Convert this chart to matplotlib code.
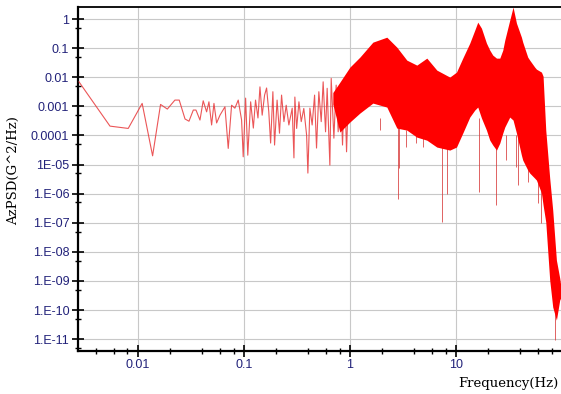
import matplotlib
matplotlib.use('Agg')
import matplotlib.pyplot as plt
from matplotlib.ticker import FixedLocator, FixedFormatter

# Low-frequency part of the spectrum (drawn as a thin line)
line_freq = [0.00279, 0.00547, 0.00813, 0.0110, 0.0138, 0.0164, 0.0190, 0.0224, 0.0246,
             0.0279, 0.0304, 0.0334, 0.0354, 0.0386, 0.0414, 0.0446, 0.0469, 0.0497,
             0.0523, 0.0554, 0.0596, 0.0664, 0.0713, 0.0767, 0.0824, 0.0886, 0.0953,
             0.0987, 0.104, 0.109, 0.116, 0.123, 0.129, 0.136, 0.142, 0.149, 0.157,
             0.164, 0.172, 0.179, 0.188, 0.195, 0.206, 0.217, 0.227, 0.239, 0.251,
             0.266, 0.286, 0.297, 0.303, 0.315, 0.331, 0.348, 0.368, 0.391, 0.402,
             0.420, 0.441, 0.465, 0.485, 0.510, 0.537, 0.560, 0.590, 0.611, 0.648,
             0.667, 0.707, 0.743, 0.776, 0.817, 0.853, 0.891, 0.931, 0.979]
line_psd = [7.0e-3, 2.1e-4, 1.75e-4, 1.27e-3, 2.0e-5, 1.17e-3, 8.1e-4, 1.65e-3, 1.65e-3,
            3.7e-4, 3.1e-4, 7.5e-4, 7.5e-4, 3.4e-4, 1.56e-3, 6.5e-4, 1.44e-3, 2.3e-4,
            1.27e-3, 2.7e-4, 5.0e-4, 9.7e-4, 3.6e-5, 1.1e-3, 8.7e-4, 1.65e-3, 3.4e-4,
            1.85e-5, 1.93e-3, 2.1e-5, 1.44e-3, 1.8e-4, 1.65e-3, 4.0e-4, 4.7e-3, 5.0e-4, 2.45e-3,
            4.3e-3, 6.5e-4, 5.5e-5, 3.2e-3, 4.7e-5, 1.65e-3, 1.2e-4, 2.45e-3, 3.0e-4, 1.1e-3,
            2.3e-4, 8.7e-4, 1.7e-5, 2.1e-3, 1.75e-4, 1.44e-3, 3.0e-4, 8.5e-4, 1.03e-4, 5.1e-6,
            8.7e-4, 2.3e-4, 2.45e-3, 3.7e-5, 3.2e-3, 3.0e-4, 7.0e-3, 1.34e-4, 4.2e-3, 9.6e-6,
            9.2e-3, 8.1e-5, 5.4e-3, 1.34e-4, 4.2e-3, 4.7e-5, 7.0e-3, 2.75e-5, 9.2e-3]

# Dense part of the spectrum: upper and lower edge of the red band
band_freq = [0.691, 0.805, 1.0, 1.243, 1.648, 2.232, 2.773, 3.446, 4.28, 5.32, 6.61,
             8.76, 10.13, 11.61, 13.52, 15.07, 16.08, 17.42, 19.42, 20.87, 22.28, 24.15,
             25.94, 27.68, 28.91, 32.2, 34.6, 37.25, 41.5, 42.7, 47.6, 49.7, 55.4, 57.5,
             64.1, 66.4, 70.4, 76.7, 81.9, 88.7, 95.3, 97.4]
band_upper = [3.0e-3, 6.8e-3, 2.24e-2, 4.95e-2, 0.162, 0.240, 0.109, 3.9e-2, 2.63e-2,
              4.57e-2, 1.77e-2, 1.02e-2, 1.51e-2, 4.57e-2, 0.150, 0.419, 0.788, 0.49, 0.150,
              8.6e-2, 5.8e-2, 4.57e-2, 4.57e-2, 8.6e-2, 0.19, 0.92, 2.6, 0.73, 0.240, 0.162,
              4.95e-2, 3.9e-2, 2.24e-2, 1.91e-2, 1.51e-2, 1.1e-2, 1.53e-4, 3.4e-6, 2.7e-7,
              5.2e-9, 1.26e-9, 7.2e-10]
band_lower = [1.2e-3, 1.31e-4, 2.9e-4, 5.9e-4, 1.3e-3, 9.5e-4, 1.8e-4, 1.53e-4, 8.8e-5,
              6.9e-5, 4.0e-5, 3.15e-5, 4.0e-5, 1.21e-4, 4.3e-4, 7.5e-4, 9.5e-4, 4.0e-4, 1.53e-4,
              6.9e-5, 4.7e-5, 3.15e-5, 5.5e-5, 1.21e-4, 1.95e-4, 4.3e-4, 3.4e-4, 1.21e-4, 2.1e-5,
              1.43e-5, 6.5e-6, 5.1e-6, 3.4e-6, 2.93e-6, 1.05e-6, 4.1e-7, 1.06e-7, 1.07e-9,
              1.27e-10, 4.5e-11, 2.2e-10, 2.6e-10]

# Deep dips below the band
spike_freq = [1.92, 2.82, 2.90, 3.42, 4.25, 4.88, 7.32, 8.21, 16.44, 24.15, 30.0, 37.25,
              38.3, 46.3, 47.6, 59.2, 64.1, 85.5]
spike_top = [4e-4, 3e-4, 3e-4, 1.5e-4, 1e-4, 1e-4, 1e-4, 1e-4, 4e-4, 1e-4, 1e-4, 1e-4,
             1e-4, 2e-5, 2e-5, 1e-5, 3e-6, 1e-9]
spike_low = [1.53e-4, 6.5e-7, 7.6e-6, 4.0e-5, 5.5e-5, 4.0e-5, 1.08e-7, 9.7e-7, 1.16e-6,
             4.1e-7, 1.43e-5, 8.2e-6, 1.98e-6, 3.15e-5, 2.5e-6, 4.75e-7, 9.8e-8, 9.3e-12]

x_ticks = [0.01, 0.1, 1, 10]
x_labels = ['0.01', '0.1', '1', '10']
y_ticks = [1, 0.1, 0.01, 0.001, 1e-4, 1e-5, 1e-6, 1e-7, 1e-8, 1e-9, 1e-10, 1e-11]
y_labels = ['1', '0.1', '0.01', '0.001', '0.0001', '1E-05', '1.E-06', '1.E-07',
            '1.E-08', '1.E-09', '1.E-10', '1.E-11']

fig = plt.figure(figsize=(5.61, 3.94), dpi=100)
ax = fig.add_axes([0.139, 0.110, 0.861, 0.872])
ax.set_xscale('log')
ax.set_yscale('log')

ax.plot(line_freq, line_psd, color='#e8383a', lw=0.8, alpha=0.85, zorder=3)
ax.vlines(spike_freq, spike_low, spike_top, color='#d83a3a', lw=0.7, alpha=0.8, zorder=3)
ax.fill_between(band_freq, band_lower, band_upper, color='#ff0000', lw=0, zorder=4)

ax.set_xlim(0.00273, 98)
ax.set_ylim(4.0e-12, 2.6)

ax.xaxis.set_major_locator(FixedLocator(x_ticks))
ax.xaxis.set_major_formatter(FixedFormatter(x_labels))
x_minor = [m * 10.0 ** e for e in range(-3, 2) for m in (2, 4, 6, 8)]
ax.xaxis.set_minor_locator(FixedLocator(x_minor))
ax.yaxis.set_major_locator(FixedLocator(y_ticks))
ax.yaxis.set_major_formatter(FixedFormatter(y_labels))
y_minor = [5 * 10.0 ** e for e in range(-12, 0)]
ax.yaxis.set_minor_locator(FixedLocator(y_minor))
ax.xaxis.set_minor_formatter(FixedFormatter([]))
ax.yaxis.set_minor_formatter(FixedFormatter([]))

ax.tick_params(which='major', direction='inout', length=8.5, width=1.2, color='black',
               labelcolor='#22227a', labelsize=9, pad=2)
ax.tick_params(which='minor', direction='inout', length=4.5, width=1.0, color='black')
for lab in ax.get_xticklabels() + ax.get_yticklabels():
    lab.set_family('Liberation Sans')

ax.grid(True, which='major', color='#c8c8c8', lw=0.8)
ax.set_axisbelow(True)

ax.spines['right'].set_visible(False)
ax.spines['left'].set_linewidth(1.6)
ax.spines['bottom'].set_linewidth(1.6)
ax.spines['top'].set_linewidth(1.3)

fig.text(0.025, 0.566, 'AzPSD(G^2/Hz)', rotation=90, ha='center', va='center',
         family='DejaVu Serif', fontsize=9.5)
fig.text(0.995, 0.027, 'Frequency(Hz)', ha='right', va='center',
         family='DejaVu Serif', fontsize=9.5)

fig.savefig('out.png', dpi=100)
